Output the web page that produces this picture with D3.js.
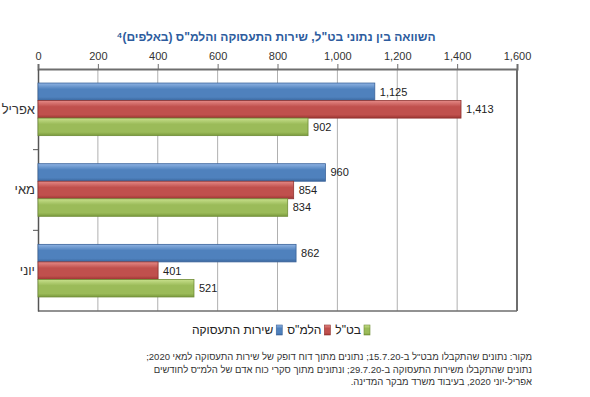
<!DOCTYPE html>
<html><head><meta charset="utf-8">
<script src="https://cdn.jsdelivr.net/npm/d3@7"></script>
<style>
html,body{margin:0;padding:0;background:#fff;}
svg{display:block;font-family:"Liberation Sans",Arial,sans-serif;}
</style></head><body>
<svg id="c" width="590" height="397"></svg>
<script>
const categories = ["אפריל", "מאי", "יוני"];
const seriesNames = ["שירות התעסוקה", "הלמ\"ס", "בט\"ל"];
const employmentService = [1125, 960, 862];
const cbs = [1413, 854, 401];
const nii = [902, 834, 521];
const xTicks = [0, 200, 400, 600, 800, 1000, 1200, 1400, 1600];
const title = "השוואה בין נתוני בט\"ל, שירות התעסוקה והלמ\"ס (באלפים)⁴";
const footnote = [
  "מקור: נתונים שהתקבלו מבט\"ל ב-15.7.20; נתונים מתוך דוח דופק של שירות התעסוקה למאי 2020;",
  "נתונים שהתקבלו משירות התעסוקה ב-29.7.20; ונתונים מתוך סקרי כוח אדם של הלמ\"ס לחודשים",
  "אפריל-יוני 2020, בעיבוד משרד מבקר המדינה."
];
const seriesValues = [employmentService, cbs, nii];
const colors = [
  {top:"#8fb3e3", mid:"#4f81bd", bot:"#3b679e", stroke:"#3a639a"},
  {top:"#e58a87", mid:"#c0504d", bot:"#9c3532", stroke:"#8f3330"},
  {top:"#c8e08c", mid:"#9bbb59", bot:"#7a9a3c", stroke:"#6f8c36"}
];

const svg = d3.select("#c");
const defs = svg.append("defs");
colors.forEach((c,i)=>{
  const g = defs.append("linearGradient").attr("id","g"+i).attr("x1",0).attr("y1",0).attr("x2",0).attr("y2",1);
  g.append("stop").attr("offset","0%").attr("stop-color",c.top);
  g.append("stop").attr("offset","35%").attr("stop-color",c.mid);
  g.append("stop").attr("offset","80%").attr("stop-color",c.mid);
  g.append("stop").attr("offset","100%").attr("stop-color",c.bot);
});

const L = 38, R = 517, T = 69, B = 311;
const x = d3.scaleLinear().domain([0,1600]).range([L,R]);
const y = d3.scaleBand().domain(categories).range([T,B]);
const ys = d3.scaleBand().domain(d3.range(3)).range([0,y.bandwidth()]).paddingOuter(0.8);

// gridlines
svg.append("g").selectAll("line").data(xTicks.slice(1,-1)).join("line")
  .attr("x1",d=>x(d)).attr("x2",d=>x(d)).attr("y1",T).attr("y2",B)
  .attr("stroke","#b0b0b0").attr("stroke-width",1);

// top axis
const ax = svg.append("g").attr("transform",`translate(0,${T})`)
  .call(d3.axisTop(x).tickValues(xTicks).tickSize(5).tickPadding(4).tickFormat(d3.format(",")));
ax.select(".domain").attr("stroke","#6e6e6e").attr("stroke-width",2);
ax.selectAll(".tick line").attr("stroke","#6e6e6e");
ax.selectAll("text").attr("font-size","11px").attr("fill","#333").attr("font-family","inherit");

// borders
svg.append("line").attr("x1",R).attr("x2",R).attr("y1",T).attr("y2",B).attr("stroke","#6e6e6e").attr("stroke-width",2);
svg.append("line").attr("x1",L).attr("x2",R).attr("y1",B).attr("y2",B).attr("stroke","#6e6e6e").attr("stroke-width",1.5);

// left axis
const ay = svg.append("g").attr("transform",`translate(${L},0)`)
  .call(d3.axisLeft(y).tickSize(0).tickPadding(3));
ay.select(".domain").attr("stroke","#555").attr("stroke-width",1.5);
ay.selectAll("text").attr("font-size","13px").attr("fill","#333").attr("font-family","inherit");
// category boundary ticks
svg.append("g").selectAll("line").data(categories.slice(1)).join("line")
  .attr("x1",L-5).attr("x2",L).attr("y1",d=>y(d)).attr("y2",d=>y(d))
  .attr("stroke","#555");

// bars
const rows = [];
categories.forEach((c,ci)=>seriesValues.forEach((s,si)=>rows.push({c, si, v:s[ci]})));
svg.append("g").selectAll("rect").data(rows).join("rect")
  .attr("x",x(0)).attr("y",d=>y(d.c)+ys(d.si))
  .attr("width",d=>x(d.v)-x(0)).attr("height",ys.bandwidth())
  .attr("fill",d=>`url(#g${d.si})`).attr("stroke",d=>colors[d.si].stroke).attr("stroke-width",0.8);
svg.append("g").selectAll("text").data(rows).join("text")
  .attr("x",d=>x(d.v)+5).attr("y",d=>y(d.c)+ys(d.si)+ys.bandwidth()/2)
  .attr("dy","0.36em").attr("font-size","11px").attr("fill","#222")
  .text(d=>d3.format(",")(d.v));

// title
svg.append("text").attr("x",276).attr("y",41).attr("text-anchor","middle")
  .style("direction","rtl").attr("font-size","12px").attr("font-weight","bold")
  .attr("fill","#2d5c9e").text(title);

// legend (RTL)
const leg = svg.append("g");
let lx = 370;
[2,1,0].forEach(si=>{
  leg.append("rect").attr("x",lx-6).attr("y",325).attr("width",6).attr("height",10)
    .attr("fill",`url(#g${si})`).attr("stroke",colors[si].stroke).attr("stroke-width",0.6);
  const t = leg.append("text").attr("x",lx-9).attr("y",334).attr("text-anchor","start")
    .style("direction","rtl").attr("font-size","12px").attr("fill","#222").text(seriesNames[si]);
  lx = lx - 9 - t.node().getComputedTextLength() - 5;
});

// footnote
svg.append("g").selectAll("text").data(footnote).join("text")
  .attr("x",532).attr("y",(d,i)=>360+i*12.5).attr("text-anchor","start")
  .style("direction","rtl").attr("font-size","9.5px").attr("fill","#333").text(d=>d);
</script></body></html>
